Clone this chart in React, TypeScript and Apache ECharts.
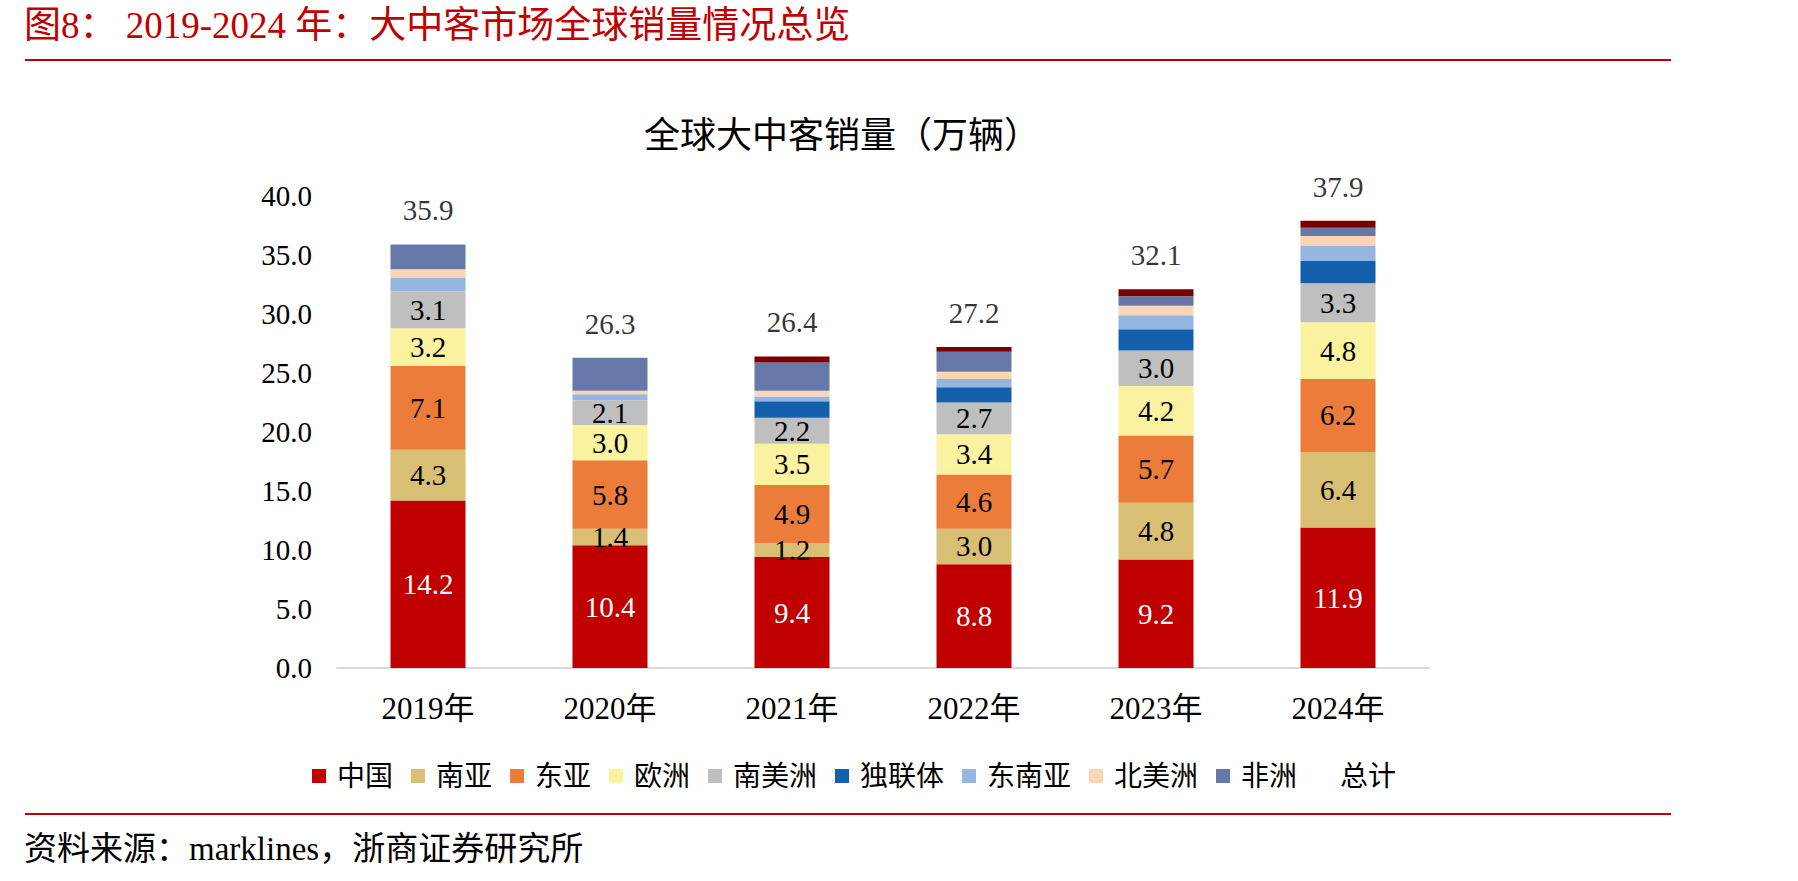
import React, { useEffect, useRef } from "react";
import * as echarts from "echarts";

// Years on the category axis
const years = ["2019年", "2020年", "2021年", "2022年", "2023年", "2024年"];

// Sales by region (万辆), stacked bottom to top
const china = [14.2, 10.4, 9.4, 8.8, 9.2, 11.9];
const southAsia = [4.3, 1.4, 1.2, 3.0, 4.8, 6.4];
const eastAsia = [7.1, 5.8, 4.9, 4.6, 5.7, 6.2];
const europe = [3.2, 3.0, 3.5, 3.4, 4.2, 4.8];
const southAmerica = [3.1, 2.1, 2.2, 2.7, 3.0, 3.3];
const cis = [0, 0, 1.4, 1.3, 1.8, 1.9];
const southeastAsia = [1.2, 0.5, 0.4, 0.7, 1.2, 1.3];
const northAmerica = [0.7, 0.3, 0.5, 0.6, 0.8, 0.8];
const africa = [2.1, 2.8, 2.4, 1.7, 0.8, 0.7];
const others = [0, 0, 0.5, 0.4, 0.6, 0.6];

// Totals shown above each bar
const totals = [35.9, 26.3, 26.4, 27.2, 32.1, 37.9];

// Y axis range
const yMin = 0;
const yMax = 40;
const yStep = 5;

const FONT = "'Liberation Serif', 'Noto Sans CJK SC', serif";
const RED = "#C00000";

type SeriesDef = {
  name: string;
  data: number[];
  color: string;
  label: boolean;
  labelColor?: string;
};

const stacks: SeriesDef[] = [
  { name: "中国", data: china, color: "#C00000", label: true, labelColor: "#FFFFFF" },
  { name: "南亚", data: southAsia, color: "#D9BF73", label: true },
  { name: "东亚", data: eastAsia, color: "#EC7C3A", label: true },
  { name: "欧洲", data: europe, color: "#FBF29F", label: true },
  { name: "南美洲", data: southAmerica, color: "#BFBFBF", label: true },
  { name: "独联体", data: cis, color: "#1560AC", label: false },
  { name: "东南亚", data: southeastAsia, color: "#95B6E0", label: false },
  { name: "北美洲", data: northAmerica, color: "#FCD5B4", label: false },
  { name: "非洲", data: africa, color: "#6678A8", label: false },
  { name: "其他", data: others, color: "#7A0000", label: false },
];

const legendNames = [
  "中国",
  "南亚",
  "东亚",
  "欧洲",
  "南美洲",
  "独联体",
  "东南亚",
  "北美洲",
  "非洲",
];

export default function App() {
  const ref = useRef<HTMLDivElement>(null);

  useEffect(() => {
    if (!ref.current) return;
    const chart = echarts.init(ref.current, undefined, { renderer: "svg" });

    const barSeries = stacks.map((s) => ({
      name: s.name,
      type: "bar",
      stack: "total",
      barWidth: 75,
      data: s.data,
      itemStyle: { color: s.color },
      label: {
        show: s.label,
        position: "inside",
        color: s.labelColor || "#000000",
        fontFamily: FONT,
        fontSize: 29,
        formatter: (p: any) => (p.value > 0 ? Number(p.value).toFixed(1) : ""),
      },
    }));

    const option: any = {
      animation: false,
      backgroundColor: "#FFFFFF",
      textStyle: { fontFamily: FONT },
      title: {
        text: "全球大中客销量（万辆）",
        left: 837,
        textAlign: "center",
        top: 113,
        textStyle: {
          fontFamily: FONT,
          fontSize: 36,
          fontWeight: "normal",
          color: "#000000",
        },
      },
      legend: {
        data: [
          ...legendNames.map((n) => ({ name: n })),
          { name: "总计", icon: "rect", itemStyle: { color: "rgba(0,0,0,0)" } },
        ],
        left: 307,
        top: 757,
        icon: "rect",
        itemWidth: 14,
        itemHeight: 14,
        itemGap: 18,
        textStyle: {
          fontFamily: FONT,
          fontSize: 28,
          color: "#000000",
          padding: [0, 0, 0, 6],
        },
      },
      grid: {
        left: 337,
        right: 369,
        top: 196,
        bottom: 213,
        containLabel: false,
      },
      xAxis: {
        type: "category",
        data: years,
        axisLine: { lineStyle: { color: "#D9D9D9", width: 2 } },
        axisTick: { show: false },
        axisLabel: {
          margin: 25,
          fontFamily: FONT,
          fontSize: 31,
          color: "#000000",
        },
      },
      yAxis: {
        type: "value",
        min: yMin,
        max: yMax,
        interval: yStep,
        axisLine: { show: false },
        axisTick: { show: false },
        splitLine: { show: false },
        axisLabel: {
          margin: 25,
          fontFamily: FONT,
          fontSize: 29,
          color: "#000000",
          formatter: (v: number) => v.toFixed(1),
        },
      },
      series: [
        ...barSeries,
        {
          name: "总计",
          type: "scatter",
          data: totals,
          symbolSize: 1,
          itemStyle: { color: "rgba(0,0,0,0)" },
          label: {
            show: true,
            position: "top",
            distance: 19,
            color: "#000000",
            fontFamily: FONT,
            fontSize: 29,
            formatter: (p: any) => Number(p.value).toFixed(1),
          },
          z: 5,
        },
      ],
      graphic: [
        {
          type: "text",
          left: 24,
          top: 7,
          style: {
            text: "图8： 2019-2024 年：大中客市场全球销量情况总览",
            fontFamily: FONT,
            fontSize: 37,
            fill: RED,
          },
        },
        {
          type: "rect",
          shape: { x: 25, y: 59, width: 1646, height: 2 },
          style: { fill: RED },
        },
        {
          type: "rect",
          shape: { x: 25, y: 813, width: 1646, height: 2 },
          style: { fill: RED },
        },
        {
          type: "text",
          left: 24,
          top: 832,
          style: {
            text: "资料来源：marklines，浙商证券研究所",
            fontFamily: FONT,
            fontSize: 33,
            fill: "#000000",
          },
        },
      ],
    };

    chart.setOption(option);
    return () => chart.dispose();
  }, []);

  return (
    <div
      ref={ref}
      style={{ position: "fixed", left: 0, top: 0, width: 1798, height: 881 }}
    />
  );
}
